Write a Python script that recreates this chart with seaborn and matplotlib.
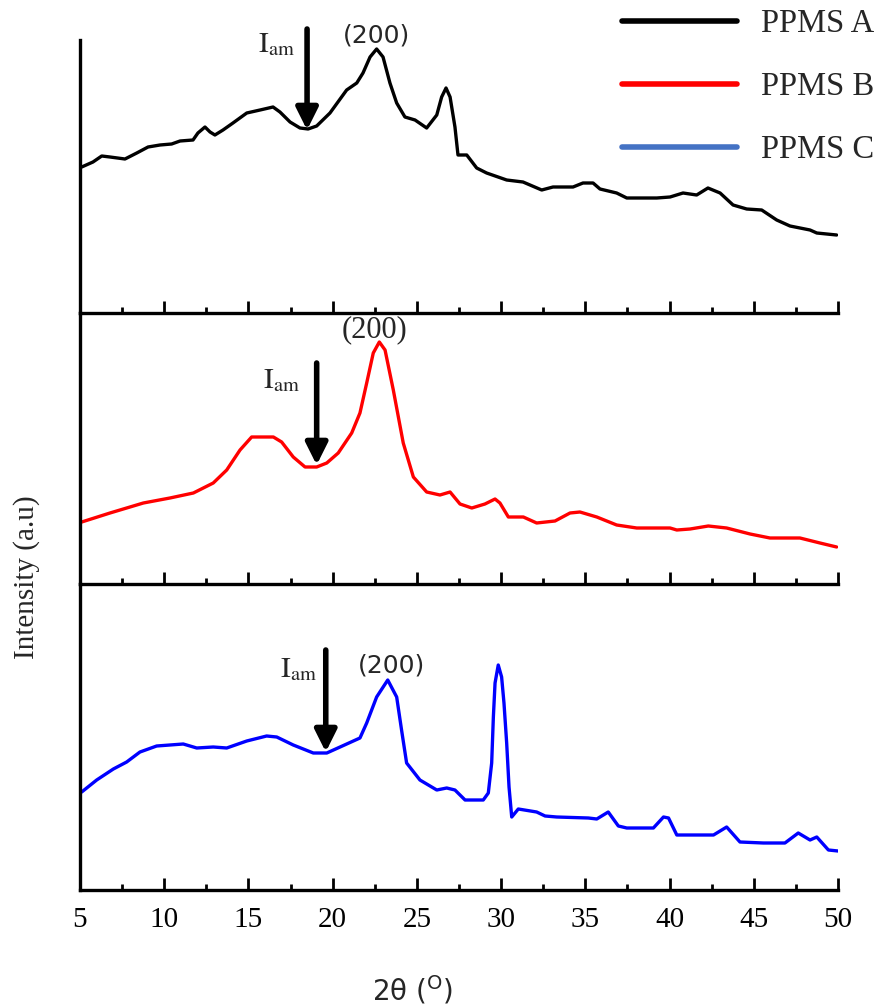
import matplotlib
matplotlib.use("Agg")
import matplotlib.pyplot as plt
from matplotlib.lines import Line2D
from matplotlib.ticker import MultipleLocator
import seaborn as sns
import pandas as pd

# XRD patterns (2θ in degrees, intensity in arbitrary units)
a_x = [5.10, 5.77, 6.29, 6.78, 7.67, 8.37, 9.04, 9.75, 10.44, 10.94, 11.71, 12.00, 12.42, 12.72, 13.01,
       13.49, 14.08, 14.90, 15.69, 16.46, 16.87, 17.47, 18.06, 18.54, 19.05, 19.84, 20.83, 21.43, 21.80, 22.22,
       22.61, 22.99, 23.40, 23.80, 24.29, 24.89, 25.58, 26.18, 26.47, 26.73, 26.97, 27.26, 27.44, 27.96, 28.55,
       29.14, 30.33, 31.30, 32.41, 33.08, 34.27, 34.86, 35.46, 35.87, 36.86, 37.46, 39.24, 40.03, 40.80, 41.61,
       42.28, 43.00, 43.77, 44.58, 45.47, 46.36, 47.15, 48.34, 48.74, 49.92]
a_y = [146, 151, 157, 156, 154, 160, 166, 168, 169, 172, 173, 180, 186, 181, 178,
       183, 190, 200, 203, 206, 201, 191, 185, 184, 187, 200, 223, 230, 240, 256,
       264, 256, 230, 210, 196, 193, 185, 198, 216, 225, 216, 186, 158, 158, 145,
       140, 133, 131, 123, 126, 126, 130, 130, 124, 120, 115, 115, 116, 120, 118,
       125, 120, 108, 104, 103, 93, 87, 83, 80, 78]

b_x = [5.10, 6.78, 8.76, 10.34, 11.73, 12.91, 13.71, 14.50, 15.19, 16.48, 16.97, 17.66, 18.36, 19.05, 19.65,
       20.33, 21.13, 21.62, 22.02, 22.41, 22.77, 23.11, 23.60, 24.19, 24.79, 25.58, 26.37, 26.97, 27.56, 28.26,
       29.04, 29.64, 29.93, 30.43, 31.32, 32.11, 33.20, 34.09, 34.68, 35.68, 36.86, 38.05, 40.03, 40.43, 41.22,
       42.30, 43.39, 44.78, 45.96, 47.74, 48.93, 49.92]
b_y = [62, 71, 81, 86, 91, 101, 114, 134, 147, 147, 142, 127, 117, 117, 121,
       131, 151, 171, 201, 231, 242, 234, 194, 141, 107, 92, 89, 92, 80, 76,
       80, 85, 81, 67, 67, 61, 63, 71, 72, 67, 59, 56, 56, 54, 55,
       58, 56, 50, 46, 46, 41, 37]

c_x = [5.10, 5.99, 6.98, 7.77, 8.56, 9.55, 11.13, 11.93, 12.91, 13.71, 14.90, 16.08, 16.68, 17.66, 18.85,
       19.65, 20.44, 21.62, 22.02, 22.61, 23.27, 23.80, 24.09, 24.39, 25.18, 26.18, 26.77, 27.26, 27.86, 28.94,
       29.24, 29.44, 29.54, 29.64, 29.83, 30.03, 30.17, 30.33, 30.47, 30.63, 31.02, 32.11, 32.61, 33.30, 35.18,
       35.68, 36.36, 36.96, 37.46, 39.04, 39.64, 39.94, 40.43, 42.61, 43.39, 44.18, 45.57, 46.85, 47.64, 48.34,
       48.74, 49.43, 50.00]
c_y = [98, 110, 121, 128, 138, 144, 146, 142, 143, 142, 149, 154, 153, 145, 137,
       137, 143, 152, 167, 193, 210, 193, 160, 127, 110, 100, 102, 100, 90, 90,
       97, 127, 173, 207, 225, 213, 187, 147, 103, 73, 81, 78, 74, 73, 72,
       71, 78, 64, 62, 62, 73, 72, 55, 55, 63, 48, 47, 47, 57, 50,
       53, 40, 39]

samples = ["PPMS A", "PPMS B", "PPMS C"]
curve_colors = ["#000000", "#ff0000", "#0000ff"]
legend_colors = ["#000000", "#ff0000", "#4472c4"]
x_ticks = [5, 10, 15, 20, 25, 30, 35, 40, 45, 50]

# amorphous minimum (x, arrow top, arrow tip) and (200) reflection label positions
iam_marks = [(18.48, 284, 183), (19.05, 221, 119), (19.59, 240, 138)]
iam_text = [(17.76, 261), (18.06, 196), (19.07, 213)]
peak_text = [(22.63, 278), (22.51, 254), (23.50, 225)]
peak_family = ["DejaVu Sans", "Liberation Serif", "DejaVu Sans"]
peak_size = [18, 22, 18]
y_tops = [273, 271, 306]

sns.set_style("ticks")
plt.rcParams["font.family"] = ["Liberation Serif", "DejaVu Sans"]

fig = plt.figure(figsize=(8.76, 10.07), dpi=100)
W, H = 876, 1007
left, right = 80, 838
bounds = [(40, 313), (313, 584), (584, 890)]

frames = [pd.DataFrame({"two_theta": a_x, "intensity": a_y}),
          pd.DataFrame({"two_theta": b_x, "intensity": b_y}),
          pd.DataFrame({"two_theta": c_x, "intensity": c_y})]

axes = []
for i, (top, bot) in enumerate(bounds):
    ax = fig.add_axes([left / W, 1 - bot / H, (right - left) / W, (bot - top) / H])
    axes.append(ax)
    sns.lineplot(data=frames[i], x="two_theta", y="intensity", ax=ax, color=curve_colors[i],
                 lw=2.4, estimator=None, sort=False)
    ax.set_xlim(5, 50)
    ax.set_ylim(0, y_tops[i])
    ax.set_xlabel("")
    ax.set_ylabel("")
    ax.set_yticks([])
    ax.set_xticks(x_ticks)
    ax.xaxis.set_minor_locator(MultipleLocator(2.5))
    ax.tick_params(axis="x", which="major", direction="in", length=9, width=2, colors="black",
                   labelsize=21, pad=12)
    ax.tick_params(axis="x", which="minor", direction="in", length=4.5, width=2, colors="black")
    if i < 2:
        ax.tick_params(axis="x", which="both", labelbottom=False)
    for s in ["top", "right"]:
        ax.spines[s].set_visible(False)
    for s in ["left", "bottom"]:
        ax.spines[s].set_linewidth(2.4)
        ax.spines[s].set_color("black")
    ax.patch.set_alpha(0)

    xa, ytop, ytip = iam_marks[i]
    ax.annotate("", xy=(xa, ytip), xytext=(xa, ytop), annotation_clip=False,
                arrowprops=dict(arrowstyle="-|>,head_length=0.6,head_width=0.3", lw=4,
                                color="black", mutation_scale=22, shrinkA=0, shrinkB=0))
    tx, ty = iam_text[i]
    ax.text(tx, ty, r"$\mathrm{I_{am}}$", ha="right", va="baseline", fontsize=21,
            math_fontfamily="stix", clip_on=False)
    px, py = peak_text[i]
    ax.text(px, py, "(200)", ha="center", va="center", fontsize=peak_size[i],
            family=peak_family[i], clip_on=False)

handles = [Line2D([], [], color=c, lw=4) for c in legend_colors]
fig.legend(handles, samples, loc="upper right", bbox_to_anchor=(1.0, 1 - 7 / H), frameon=False,
           fontsize=23.5, handlelength=3.5, handletextpad=0.75, labelspacing=1.0,
           borderaxespad=0.0, borderpad=0.05)

fig.text(27 / W, 1 - 577 / H, "Intensity (a.u)", rotation=90, ha="center", va="center", fontsize=21)
fig.text(413 / W, 1 - 990 / H, r"2θ ($^{\mathrm{O}}$)", ha="center", va="center", fontsize=20,
         family="DejaVu Sans", math_fontfamily="dejavusans")

fig.savefig("out.png", dpi=100)
